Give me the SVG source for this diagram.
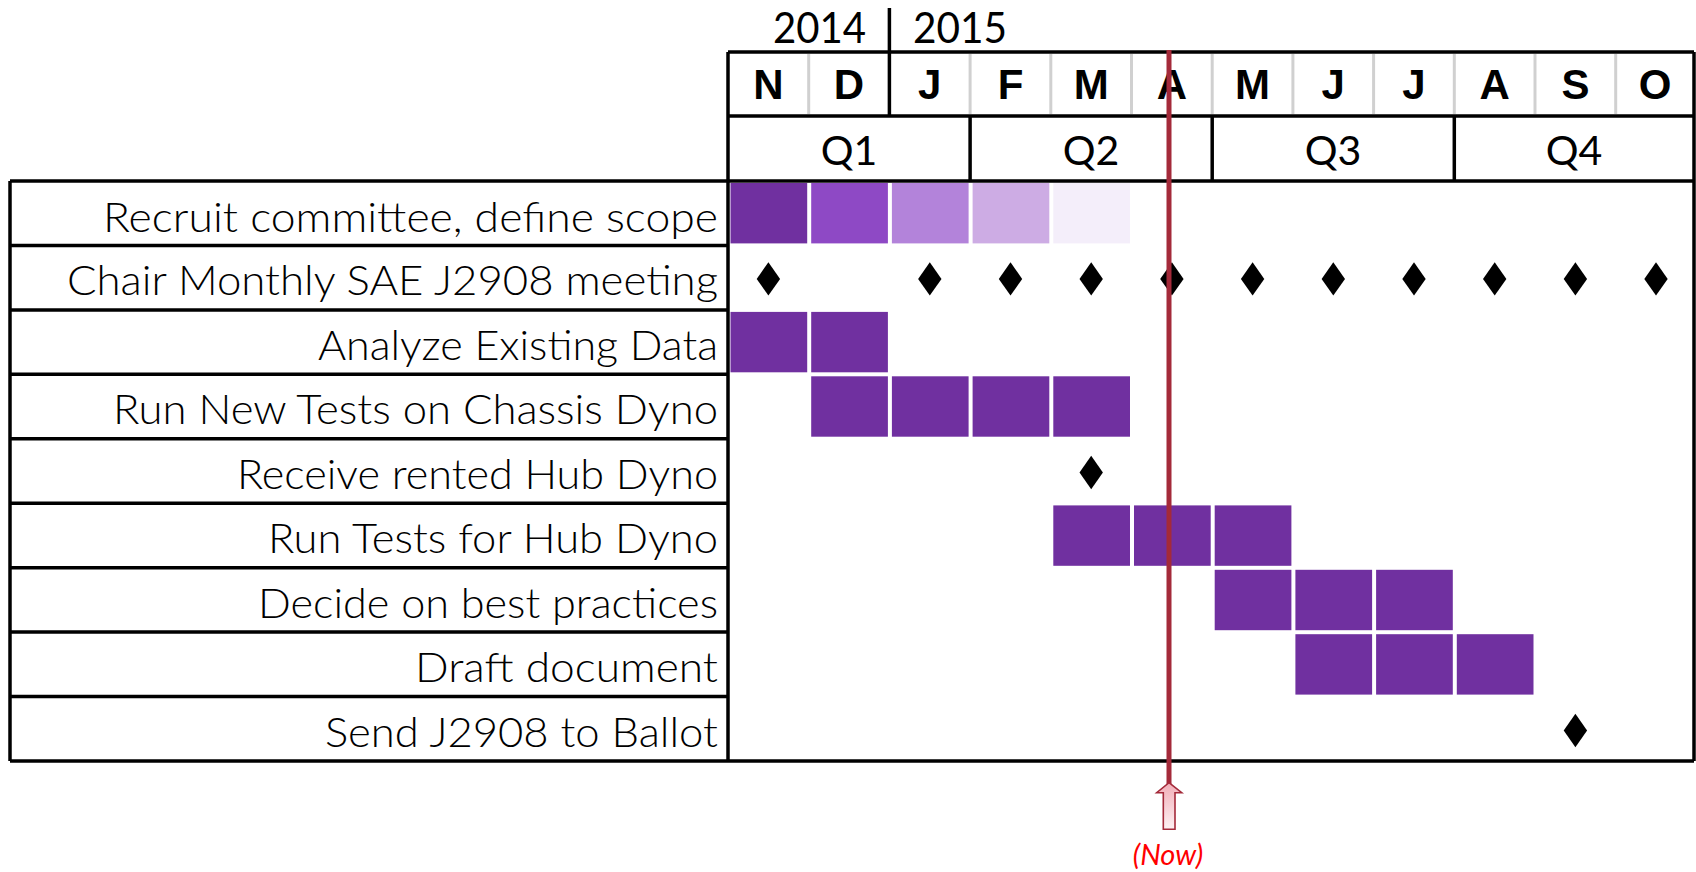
<svg xmlns="http://www.w3.org/2000/svg" width="1696" height="872" viewBox="0 0 1696 872">
  <style>
    .grid { stroke: #000; stroke-width: 3.5; fill: none; }
    .minor { stroke: #d0d0d0; stroke-width: 3; }
    .month { font-family: "Liberation Sans", Arial, sans-serif; font-weight: bold; font-size: 42px; text-anchor: middle; fill: #000; }
    .quarter { font-family: Lato, "Noto Sans", sans-serif; font-size: 41px; text-anchor: middle; fill: #000; }
    .year { font-family: Lato, "Noto Sans", sans-serif; font-size: 43px; fill: #000; }
    .label { font-family: Lato, "Noto Sans", sans-serif; font-weight: 300; font-size: 41px; text-anchor: end; fill: #000; }
    .bar { fill: #7030a0; }
    .now { stroke: #a42a3a; stroke-width: 5; }
    .nowtext { font-family: Lato, "Noto Sans", sans-serif; font-style: italic; font-size: 29px; text-anchor: middle; fill: #ff0000; }
  </style>
  <defs>
    <path id="ms" d="M0,-16.7 L11.7,0 L0,16.7 L-11.7,0 Z" fill="#000"/>
    <linearGradient id="arrowFill" x1="0" y1="0" x2="0" y2="1">
      <stop offset="0" stop-color="#f2adb7"/>
      <stop offset="1" stop-color="#fdf1f3"/>
    </linearGradient>
  </defs>
  <rect width="1696" height="872" fill="#fff"/>

  <!-- timeline header: years, months, quarters -->
  <g id="header">
    <text class="year" x="773" y="43" textLength="93" lengthAdjust="spacingAndGlyphs">2014</text>
    <text class="year" x="913" y="43" textLength="94" lengthAdjust="spacingAndGlyphs">2015</text>
    <!-- month cell dividers -->
    <line class="minor" x1="808.7" y1="54" x2="808.7" y2="114"/>
    <line class="minor" x1="970.1" y1="54" x2="970.1" y2="114"/>
    <line class="minor" x1="1050.8" y1="54" x2="1050.8" y2="114"/>
    <line class="minor" x1="1131.5" y1="54" x2="1131.5" y2="114"/>
    <line class="minor" x1="1212.2" y1="54" x2="1212.2" y2="114"/>
    <line class="minor" x1="1292.9" y1="54" x2="1292.9" y2="114"/>
    <line class="minor" x1="1373.6" y1="54" x2="1373.6" y2="114"/>
    <line class="minor" x1="1454.3" y1="54" x2="1454.3" y2="114"/>
    <line class="minor" x1="1535" y1="54" x2="1535" y2="114"/>
    <line class="minor" x1="1615.7" y1="54" x2="1615.7" y2="114"/>
    <!-- year break -->
    <line class="grid" x1="889.4" y1="8" x2="889.4" y2="116"/>
    <!-- month and quarter rows -->
    <line class="grid" x1="728" y1="52" x2="1694" y2="52"/>
    <line class="grid" x1="728" y1="116" x2="1694" y2="116"/>
    <line class="grid" x1="728" y1="52" x2="728" y2="181"/>
    <line class="grid" x1="970.1" y1="116" x2="970.1" y2="181"/>
    <line class="grid" x1="1212.2" y1="116" x2="1212.2" y2="181"/>
    <line class="grid" x1="1454.3" y1="116" x2="1454.3" y2="181"/>
    <text class="month" x="768.4" y="99">N</text>
    <text class="month" x="849" y="99">D</text>
    <text class="month" x="929.8" y="99">J</text>
    <text class="month" x="1010.5" y="99">F</text>
    <text class="month" x="1091.2" y="99">M</text>
    <text class="month" x="1171.9" y="99">A</text>
    <text class="month" x="1252.6" y="99">M</text>
    <text class="month" x="1333.3" y="99">J</text>
    <text class="month" x="1414" y="99">J</text>
    <text class="month" x="1494.7" y="99">A</text>
    <text class="month" x="1575.4" y="99">S</text>
    <text class="month" x="1655" y="99">O</text>
    <text class="quarter" x="849" y="165">Q1</text>
    <text class="quarter" x="1091" y="165">Q2</text>
    <text class="quarter" x="1333" y="165">Q3</text>
    <text class="quarter" x="1574" y="165">Q4</text>
  </g>

  <!-- table frame -->
  <g id="frame">
    <line class="grid" x1="10" y1="181" x2="1694" y2="181"/>
    <line class="grid" x1="10" y1="761" x2="1694" y2="761"/>
    <line class="grid" x1="10" y1="181" x2="10" y2="761"/>
    <line class="grid" x1="728" y1="181" x2="728" y2="761"/>
    <line class="grid" x1="1694" y1="52" x2="1694" y2="761"/>
    <line class="grid" x1="10" y1="245.4" x2="728" y2="245.4"/>
    <line class="grid" x1="10" y1="309.9" x2="728" y2="309.9"/>
    <line class="grid" x1="10" y1="374.3" x2="728" y2="374.3"/>
    <line class="grid" x1="10" y1="438.8" x2="728" y2="438.8"/>
    <line class="grid" x1="10" y1="503.2" x2="728" y2="503.2"/>
    <line class="grid" x1="10" y1="567.7" x2="728" y2="567.7"/>
    <line class="grid" x1="10" y1="632.1" x2="728" y2="632.1"/>
    <line class="grid" x1="10" y1="696.6" x2="728" y2="696.6"/>
  </g>

  <g id="task-recruit">
    <text class="label" x="718" y="231.5" textLength="615" lengthAdjust="spacingAndGlyphs">Recruit committee, define scope</text>
    <rect x="730.5" y="183" width="76.7" height="60.4" fill="#7030a0"/>
    <rect x="811.2" y="183" width="76.7" height="60.4" fill="#8e49c5"/>
    <rect x="891.9" y="183" width="76.7" height="60.4" fill="#b383da"/>
    <rect x="972.6" y="183" width="76.7" height="60.4" fill="#cdace4"/>
    <rect x="1053.3" y="183" width="76.7" height="60.4" fill="#f4eefa"/>
  </g>

  <g id="task-monthly-meeting">
    <text class="label" x="718" y="295" textLength="651" lengthAdjust="spacingAndGlyphs">Chair Monthly SAE J2908 meeting</text>
    <use href="#ms" x="768.4" y="278.9"/>
    <use href="#ms" x="929.8" y="278.9"/>
    <use href="#ms" x="1010.5" y="278.9"/>
    <use href="#ms" x="1091.2" y="278.9"/>
    <use href="#ms" x="1171.9" y="278.9"/>
    <use href="#ms" x="1252.6" y="278.9"/>
    <use href="#ms" x="1333.3" y="278.9"/>
    <use href="#ms" x="1414" y="278.9"/>
    <use href="#ms" x="1494.7" y="278.9"/>
    <use href="#ms" x="1575.4" y="278.9"/>
    <use href="#ms" x="1656" y="278.9"/>
  </g>

  <g id="task-analyze">
    <text class="label" x="718" y="359.5" textLength="400" lengthAdjust="spacingAndGlyphs">Analyze Existing Data</text>
    <rect class="bar" x="730.5" y="311.9" width="76.7" height="60.4"/>
    <rect class="bar" x="811.2" y="311.9" width="76.7" height="60.4"/>
  </g>

  <g id="task-chassis-tests">
    <text class="label" x="718" y="424" textLength="605" lengthAdjust="spacingAndGlyphs">Run New Tests on Chassis Dyno</text>
    <rect class="bar" x="811.2" y="376.3" width="76.7" height="60.4"/>
    <rect class="bar" x="891.9" y="376.3" width="76.7" height="60.4"/>
    <rect class="bar" x="972.6" y="376.3" width="76.7" height="60.4"/>
    <rect class="bar" x="1053.3" y="376.3" width="76.7" height="60.4"/>
  </g>

  <g id="task-receive-hub">
    <text class="label" x="718" y="488.5" textLength="481" lengthAdjust="spacingAndGlyphs">Receive rented Hub Dyno</text>
    <use href="#ms" x="1091.2" y="472.5"/>
  </g>

  <g id="task-hub-tests">
    <text class="label" x="718" y="553" textLength="450" lengthAdjust="spacingAndGlyphs">Run Tests for Hub Dyno</text>
    <rect class="bar" x="1053.3" y="505.4" width="76.7" height="60.4"/>
    <rect class="bar" x="1134" y="505.4" width="76.7" height="60.4"/>
    <rect class="bar" x="1214.7" y="505.4" width="76.7" height="60.4"/>
  </g>

  <g id="task-best-practices">
    <text class="label" x="718" y="617.5" textLength="460" lengthAdjust="spacingAndGlyphs">Decide on best practices</text>
    <rect class="bar" x="1214.7" y="569.8" width="76.7" height="60.4"/>
    <rect class="bar" x="1295.4" y="569.8" width="76.7" height="60.4"/>
    <rect class="bar" x="1376.1" y="569.8" width="76.7" height="60.4"/>
  </g>

  <g id="task-draft">
    <text class="label" x="718" y="682" textLength="303" lengthAdjust="spacingAndGlyphs">Draft document</text>
    <rect class="bar" x="1295.4" y="634.2" width="76.7" height="60.4"/>
    <rect class="bar" x="1376.1" y="634.2" width="76.7" height="60.4"/>
    <rect class="bar" x="1456.8" y="634.2" width="76.7" height="60.4"/>
  </g>

  <g id="task-ballot">
    <text class="label" x="718" y="747" textLength="393" lengthAdjust="spacingAndGlyphs">Send J2908 to Ballot</text>
    <use href="#ms" x="1575.4" y="730.5"/>
  </g>

  <!-- current-date marker -->
  <g id="connectors">
    <line class="now" x1="1169" y1="50" x2="1169" y2="784"/>
    <path d="M1169,782.7 L1181.7,792.7 L1175,792.7 L1175,829.3 L1163.3,829.3 L1163.3,792.7 L1156.7,792.7 Z" fill="url(#arrowFill)" stroke="#a42a3a" stroke-width="1.6" stroke-linejoin="miter"/>
    <text class="nowtext" x="1168" y="865">(Now)</text>
  </g>
</svg>
